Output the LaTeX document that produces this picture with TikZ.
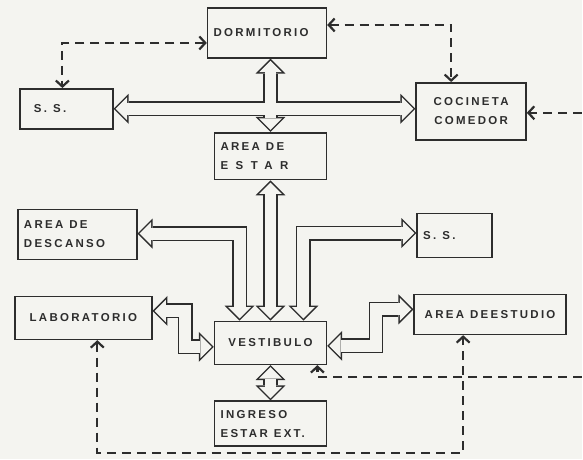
\documentclass[tikz,border=0pt]{standalone}
\usepackage{fontspec}
\usetikzlibrary{arrows.meta,calc}

\newfontfamily\lblfont[LetterSpace=20]{Liberation Sans}
\newfontfamily\widefont[LetterSpace=65]{Liberation Sans}
\newcommand{\lbl}{\lblfont\bfseries\fontsize{11.5pt}{19pt}\selectfont}
\newcommand{\wsp}{\hspace{6pt}}

\definecolor{paper}{RGB}{244,244,240}
\definecolor{ink}{RGB}{45,45,45}

\tikzset{
  room/.style={draw=ink, line width=1.6pt, fill=paper, font=\lbl, text=ink,
    inner xsep=6pt, inner ysep=0pt, align=left},
  hollow/.style={color=ink, line width=15pt,
    {Triangle[length=15pt,width=30pt,line width=0pt 0 0]}-{Triangle[length=15pt,width=30pt,line width=0pt 0 0]}},
  hollowin/.style={color=paper, line width=12pt, shorten <=2.1pt, shorten >=2.1pt,
    {Triangle[length=11.4pt,width=22.8pt,line width=0pt 0 0]}-{Triangle[length=11.4pt,width=22.8pt,line width=0pt 0 0]}},
  link/.style={draw=ink, line width=2.2pt, dash pattern=on 9pt off 6pt},
  >={Straight Barb[length=6pt,width=13pt]}
}

% wide double arrows, drawn twice: outline then inside
\newcommand{\hollowlinks}[1]{%
  \draw[#1] (ssA.east) -- (ssA.east -| coc.west);
  \draw[#1] (estar.north |- dorm.south) -- (estar.north);
  \draw[#1] (estar.south) -- (vest.north);
  \draw[#1] ($(desc.east)+(0,-1)$) -| ($(vest.north)+(-31,0)$);
  \draw[#1] ($(vest.north)+(33,0)$) |- ($(ssB.west)+(0,-2.5)$);
  \draw[#1] ($(lab.east)+(0,-7)$) -| ($(vest.west)+(-28.5,4)$) -- ($(vest.west)+(0,4)$);
  \draw[#1] ($(vest.east)+(0,3)$) -| ($(est.west)+(-37.5,-5)$) -- ($(est.west)+(0,-5)$);
  \draw[#1] (vest.south) -- (ing.north);
}

\begin{document}
\begin{tikzpicture}[x=1pt,y=-1pt]
\fill[paper] (0,0) rectangle (583,460);

% rooms
\node[room, text width=107pt, minimum height=50pt] (dorm) at (267.5,33) {DORMITORIO};
\node[room, text width=81pt, minimum height=40pt] (ssA) at (66.5,109) {\hspace*{8pt}S.\wsp S.};
\node[room, text width=98pt, minimum height=57pt, align=center] (coc) at (472,111.5) {COCINETA\\COMEDOR};
\node[room, text width=100pt, minimum height=47pt] (estar) at (271,156.5) {AREA\wsp DE\\{\widefont\bfseries ESTAR}};
\node[room, text width=107pt, minimum height=50pt] (desc) at (77.5,235) {AREA\wsp DE\\DESCANSO};
\node[room, text width=63pt, minimum height=44pt] (ssB) at (455.5,236) {S.\wsp S.};
\node[room, text width=125pt, minimum height=43pt, align=center] (lab) at (83.5,318.5) {LABORATORIO};
\node[room, text width=100pt, minimum height=43pt, align=center] (vest) at (271,343.5) {VESTIBULO};
\node[room, text width=148pt, inner xsep=2pt, minimum height=40pt, align=center] (est) at (491,315) {AREA\wsp DEESTUDIO};
\node[room, text width=100pt, minimum height=45pt] (ing) at (271,424.5) {INGRESO\\ESTAR\wsp EXT.};

\hollowlinks{hollow}
\hollowlinks{hollowin}

% dashed links
\draw[link,<->] ($(dorm.west)+(0,10)$) -| ($(ssA.north)+(-4,0)$);
\draw[link,<->] ($(dorm.east)+(0,-8)$) -| ($(coc.north)+(-20,0)$);
\coordinate (edgeA) at (583,113);
\draw[link,->] (edgeA) -- (edgeA -| coc.east);
\coordinate (edgeB) at (583,378);
\draw[link,->] (edgeB) -| ($(vest.south)+(47,0)$);
\draw[link,<->] ($(lab.south)+(14,0)$) -- ++(0,113) -| ($(est.south)+(-27,0)$);

\end{tikzpicture}
\end{document}
